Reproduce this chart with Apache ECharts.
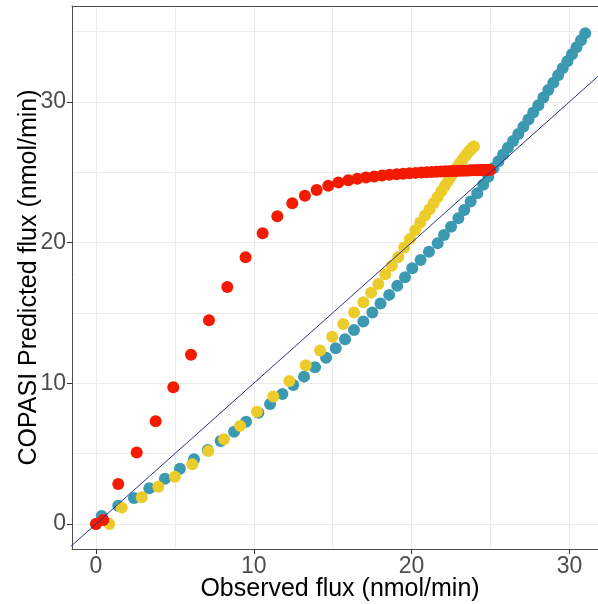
<!DOCTYPE html>
<html>
<head>
<meta charset="utf-8">
<script src="https://cdn.jsdelivr.net/npm/echarts@6/dist/echarts.min.js"></script>
<style>
  html, body { margin: 0; padding: 0; background: #ffffff; }
  #chart { width: 598px; height: 604px; }
</style>
</head>
<body>
<div id="chart"></div>
<script>
// Observed vs. COPASI-predicted flux for three parameter sets

const tealObserved = [0.00, 0.36, 1.41, 2.41, 3.38, 4.37, 5.32, 6.21, 7.08, 7.90, 8.75, 9.51,
  10.29, 11.03, 11.81, 12.50, 13.18, 13.88, 14.58, 15.19, 15.78, 16.35, 16.94, 17.51, 18.03,
  18.58, 19.09, 19.58, 20.04, 20.57, 21.10, 21.65, 22.05, 22.50, 22.96, 23.34, 23.74, 24.16,
  24.54, 24.86, 25.18, 25.50, 25.80, 26.10, 26.43, 26.76, 27.08, 27.40, 27.71, 28.03, 28.35,
  28.66, 28.98, 29.28, 29.57, 29.87, 30.16, 30.45, 30.73, 31.00];
const tealPredicted = [0.00, 0.57, 1.30, 1.85, 2.54, 3.22, 3.93, 4.60, 5.26, 5.90, 6.56, 7.27,
  7.91, 8.53, 9.24, 9.88, 10.47, 11.14, 11.82, 12.49, 13.13, 13.79, 14.38, 15.02, 15.66,
  16.28, 16.92, 17.53, 18.17, 18.76, 19.35, 19.95, 20.54, 21.13, 21.73, 22.32, 22.91, 23.50,
  24.10, 24.68, 25.28, 25.78, 26.25, 26.73, 27.22, 27.72, 28.22, 28.74, 29.24, 29.76, 30.30,
  30.84, 31.36, 31.88, 32.38, 32.88, 33.38, 33.88, 34.38, 34.88];

const yellowObserved = [0.84, 1.63, 2.90, 3.95, 5.00, 6.10, 7.12, 8.11, 9.13, 10.20, 11.24,
  12.25, 13.29, 14.20, 14.97, 15.67, 16.35, 16.94, 17.43, 17.89, 18.33, 18.75, 19.15, 19.53,
  19.89, 20.23, 20.55, 20.85, 21.13, 21.39, 21.64, 21.88, 22.10, 22.31, 22.51, 22.70, 22.88,
  23.05, 23.21, 23.36, 23.50, 23.63, 23.75, 23.86, 23.95];
const yellowPredicted = [0.00, 1.16, 1.90, 2.65, 3.36, 4.24, 5.19, 6.02, 6.97, 7.98, 9.05,
  10.16, 11.28, 12.32, 13.31, 14.21, 15.02, 15.76, 16.44, 17.06, 17.75, 18.35, 18.98, 19.65,
  20.25, 20.88, 21.42, 21.92, 22.35, 22.80, 23.22, 23.64, 24.02, 24.38, 24.72, 25.04, 25.34,
  25.62, 25.87, 26.10, 26.30, 26.47, 26.62, 26.73, 26.82];

const redObserved = [0.00, 0.46, 1.41, 2.58, 3.78, 4.90, 6.02, 7.16, 8.32, 9.48, 10.56, 11.49,
  12.44, 13.24, 13.98, 14.72, 15.36, 15.99, 16.56, 17.11, 17.63, 18.13, 18.60, 19.05, 19.47,
  19.87, 20.25, 20.61, 20.95, 21.27, 21.57, 21.85, 22.12, 22.37, 22.61, 22.83, 23.04, 23.24,
  23.43, 23.61, 23.78, 23.94, 24.09, 24.23, 24.36, 24.48, 24.59, 24.69, 24.79, 24.88, 24.97];
const redPredicted = [0.00, 0.28, 2.84, 5.07, 7.30, 9.72, 12.03, 14.48, 16.84, 18.95, 20.66,
  21.87, 22.79, 23.33, 23.74, 24.04, 24.26, 24.43, 24.54, 24.63, 24.70, 24.76, 24.81, 24.85,
  24.89, 24.92, 24.95, 24.97, 24.99, 25.01, 25.03, 25.04, 25.06, 25.07, 25.08, 25.09, 25.10,
  25.11, 25.11, 25.12, 25.13, 25.13, 25.14, 25.14, 25.15, 25.15, 25.15, 25.16, 25.16, 25.16,
  25.16];

// identity reference line (predicted = observed)
const identityLine = [-5, 45];

const xTickLabels = [0, 10, 20, 30];
const yTickLabels = [0, 10, 20, 30];
const xGridValues = [0, 5, 10, 15, 20, 25, 30];
const yGridValues = [0, 5, 10, 15, 20, 25, 30, 35];

const xRange = [-1.52, 31.81];
const yRange = [-1.78, 36.81];

const FONT = '"Liberation Sans", Arial, Helvetica, sans-serif';

function pairs(xs, ys) {
  return xs.map((x, i) => [x, ys[i]]);
}

const chart = echarts.init(document.getElementById('chart'), null, { renderer: 'canvas' });

const gridColor = '#ebebeb';
const frameColor = '#4d4d4d';

chart.setOption({
  animation: false,
  backgroundColor: '#ffffff',
  grid: { left: 72, right: 0, top: 6, bottom: 55, containLabel: false, outerBoundsMode: 'none' },
  xAxis: [
    {
      type: 'value', position: 'bottom', min: xRange[0], max: xRange[1],
      name: 'Observed flux (nmol/min)', nameLocation: 'middle', nameGap: 28, nameMoveOverlap: false,
      nameTextStyle: { fontFamily: FONT, fontSize: 25, color: '#000000', padding: [0, 0, 0, 10] },
      axisLine: { show: true, onZero: false, lineStyle: { color: frameColor, width: 1 } },
      axisTick: { show: true, length: 5, customValues: xTickLabels, lineStyle: { color: '#333333' } },
      axisLabel: { show: true, customValues: xTickLabels, margin: 6,
        fontFamily: FONT, fontSize: 23, color: '#4d4d4d' },
      splitLine: { show: false }
    },
    {
      type: 'value', position: 'top', min: xRange[0], max: xRange[1],
      axisLine: { show: true, onZero: false, lineStyle: { color: frameColor, width: 1 } },
      axisTick: { show: false }, axisLabel: { show: false }, splitLine: { show: false }
    }
  ],
  yAxis: {
    type: 'value', min: yRange[0], max: yRange[1],
    name: 'COPASI Predicted flux (nmol/min)', nameLocation: 'middle', nameGap: 30, nameMoveOverlap: false,
    nameTextStyle: { fontFamily: FONT, fontSize: 25, color: '#000000' },
    axisLine: { show: true, onZero: false, lineStyle: { color: frameColor, width: 1 } },
    axisTick: { show: true, length: 5, customValues: yTickLabels, lineStyle: { color: '#333333' } },
    axisLabel: { show: true, customValues: yTickLabels, margin: 6,
      fontFamily: FONT, fontSize: 23, color: '#4d4d4d' },
    splitLine: { show: false }
  },
  series: [
    {
      // panel grid lines, kept beneath every mark
      type: 'scatter', data: [], silent: true, z: 0,
      markLine: {
        z: 0, silent: true, symbol: ['none', 'none'], animation: false,
        label: { show: false },
        lineStyle: { color: gridColor, width: 1, type: 'solid' },
        data: xGridValues.map(v => ({ xAxis: v })).concat(yGridValues.map(v => ({ yAxis: v })))
      }
    },
    {
      type: 'scatter', name: 'teal', data: pairs(tealObserved, tealPredicted),
      symbol: 'circle', symbolSize: 12, z: 2,
      itemStyle: { color: '#3B9AB2', opacity: 1 }
    },
    {
      type: 'scatter', name: 'yellow', data: pairs(yellowObserved, yellowPredicted),
      symbol: 'circle', symbolSize: 12, z: 3,
      itemStyle: { color: '#EBCC2A', opacity: 1 }
    },
    {
      type: 'scatter', name: 'red', data: pairs(redObserved, redPredicted),
      symbol: 'circle', symbolSize: 12, z: 4,
      itemStyle: { color: '#F21A00', opacity: 1 }
    },
    {
      type: 'line', name: 'identity', data: identityLine.map(v => [v, v]),
      showSymbol: false, symbol: 'none', clip: true, z: 5, silent: true,
      lineStyle: { color: '#27348b', width: 1 }
    }
  ]
});
</script>
</body>
</html>
